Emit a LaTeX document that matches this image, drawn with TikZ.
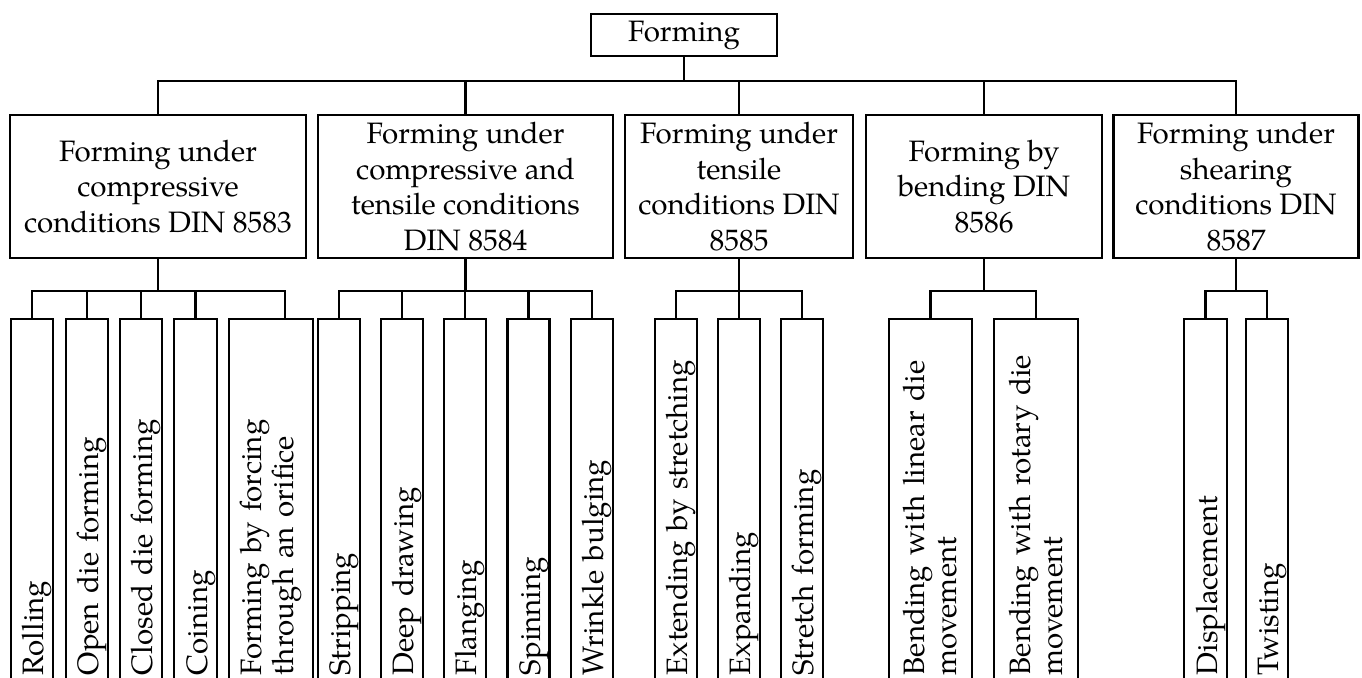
\documentclass[tikz,border=0pt]{standalone}
\usepackage{fontspec}
\setmainfont{TeX Gyre Pagella}
\begin{document}
\begin{tikzpicture}[x=1pt,y=-1pt,line width=2.2pt,
  topbox/.style={draw,inner sep=0pt,minimum width=186pt,minimum height=42pt,
    font=\fontsize{29.5}{35.5}\selectfont},
  midbox/.style={draw,inner sep=0pt,minimum height=143pt,align=center,
    font=\fontsize{29.5}{35.5}\selectfont},
  leafbox/.style={draw,rotate=90,anchor=east,inner xsep=0pt,inner ysep=0pt,
    minimum width=382pt,text width=330pt,align=left,
    font=\fontsize{29.5}{32}\selectfont},
  oneline/.style={leafbox,text height=31pt,text depth=8pt},
  conn/.style={line width=2.2pt}]
\useasboundingbox (0,0) rectangle (1362,677);
\clip (0,0) rectangle (1362,677);
% top
\node[topbox] (F) at (684,35) {Forming};
% level 2
\node[midbox,minimum width=296pt] (A) at (158,186.5) {Forming under\\compressive\\conditions DIN 8583};
\node[midbox,minimum width=295pt] (B) at (465.5,186.5) {Forming under\\compressive and\\tensile conditions\\DIN 8584};
\node[midbox,minimum width=228.5pt] (C) at (739,186.5) {Forming under\\tensile\\conditions DIN\\8585};
\node[midbox,minimum width=236.5pt] (D) at (984,186.5) {Forming by\\bending DIN\\8586};
\node[midbox,minimum width=245pt] (E) at (1236,186.5) {Forming under\\shearing\\conditions DIN\\8587};
% leaves group A
\node[oneline,minimum height=42pt] (a1) at (32,318) {Rolling};
\node[oneline,minimum height=42pt] (a2) at (87,318) {Open die forming};
\node[oneline,minimum height=42pt] (a3) at (141,318) {Closed die forming};
\node[oneline,minimum height=43pt] (a4) at (195.5,318) {Coining};
\node[leafbox,minimum height=84pt] (a5) at (271,318) {Forming by forcing\\through an orifice};
% group B
\node[oneline,minimum height=42pt] (b1) at (339,318) {Stripping};
\node[oneline,minimum height=42pt] (b2) at (402,318) {Deep drawing};
\node[oneline,minimum height=42pt] (b3) at (465,318) {Flanging};
\node[oneline,minimum height=42pt] (b4) at (528.5,318) {Spinning};
\node[oneline,minimum height=42pt] (b5) at (592,318) {Wrinkle bulging};
% group C
\node[oneline,minimum height=42pt] (c1) at (676,318) {Extending by stretching};
\node[oneline,minimum height=42pt] (c2) at (739,318) {Expanding};
\node[oneline,minimum height=42pt] (c3) at (802,318) {Stretch forming};
% group D
\node[leafbox,minimum height=83pt] (d1) at (930.5,318) {Bending with linear die\\movement};
\node[leafbox,minimum height=84pt] (d2) at (1036,318) {Bending with rotary die\\movement};
% group E
\node[oneline,minimum height=43pt] (e1) at (1205.5,318) {Displacement};
\node[oneline,minimum height=42pt] (e2) at (1267,318) {Twisting};
% bus coordinates
\coordinate (busF) at (684,81);
\coordinate (busA) at (158,290.7);
\coordinate (busB) at (465.5,290.7);
\coordinate (busC) at (739,290.7);
\coordinate (busD) at (984,290.7);
\coordinate (busE) at (1236,290.7);
\coordinate (a5top) at (285,318);
% connectors level 1
\draw[conn] (F.south) -- (busF);
\foreach \n in {A,B,C,D,E} \draw[conn] (busF) -| (\n.north);
% level 2 to leaves
\draw[conn] (A.south) -- (busA);
\foreach \n in {a1,a2,a3,a4} \draw[conn] (busA) -| (\n.east);
\draw[conn] (busA) -| (a5top);
\draw[conn] (B.south) -- (busB);
\foreach \n in {b1,b2,b3,b4,b5} \draw[conn] (busB) -| (\n.east);
\draw[conn] (C.south) -- (busC);
\foreach \n in {c1,c2,c3} \draw[conn] (busC) -| (\n.east);
\draw[conn] (D.south) -- (busD);
\foreach \n in {d1,d2} \draw[conn] (busD) -| (\n.east);
\draw[conn] (E.south) -- (busE);
\foreach \n in {e1,e2} \draw[conn] (busE) -| (\n.east);
\end{tikzpicture}
\end{document}
